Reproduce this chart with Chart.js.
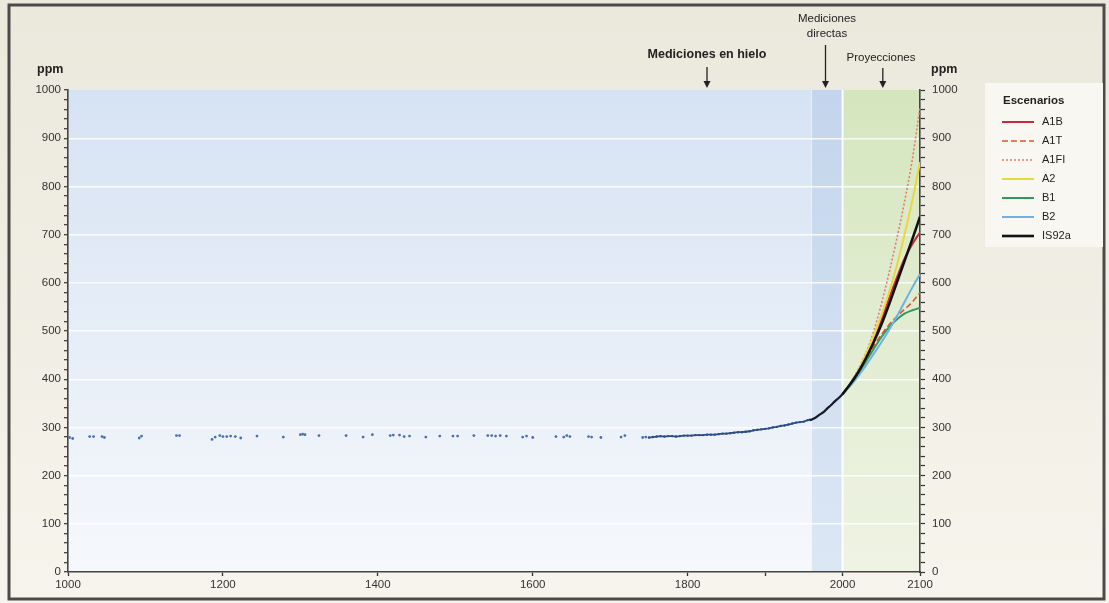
<!DOCTYPE html>
<html>
<head>
<meta charset="utf-8">
<script src="https://cdn.jsdelivr.net/npm/chart.js@4.4.1/dist/chart.umd.min.js"></script>
<style>
body { margin: 0; background: #f3f1e8; }
#wrap { width: 1109px; height: 603px; }
</style>
</head>
<body>
<div id="wrap"><canvas id="mychart" width="1109" height="603"></canvas></div>
<script>
// ice core samples, 1000-1750 (scattered)
var iceYears = [1002,1006,1028,1033,1044,1047,1092,1095,1140,1144,1186,1190,1196,1200,1205,1210,1216,1223,1244,1278,1300,1303,1306,1324,1359,1381,1393,1416,1420,1428,1434,1441,1462,1480,1497,1503,1524,1542,1547,1552,1558,1566,1587,1592,1600,1630,1640,1644,1648,1672,1676,1688,1714,1719,1742,1746];
var iceCO2 = [279,277,281,281,281,279,278,282,283,283,275,280,283,281,281,282,281,278,282,280,285,286,285,283,283,280,285,283,284,284,281,282,280,282,282,282,283,283,283,282,283,282,280,282,279,281,280,283,281,281,280,279,280,283,279,280];

// ice core, dense part 1750-1958
var recentYears = [1750,1755,1760,1765,1770,1775,1780,1785,1790,1795,1800,1805,1810,1815,1820,1825,1830,1835,1840,1845,1850,1855,1860,1865,1870,1875,1880,1885,1890,1895,1900,1905,1910,1915,1920,1925,1930,1935,1940,1945,1950,1955,1958];
var recentCO2 = [279,280,281,282,281,282,282,281,282,283,283,283,284,284,284,285,285,285,286,287,287,288,289,290,290,291,292,294,295,296,297,298,300,301,303,304,306,308,310,311,312,315,316];

// direct measurements
var directYears = [1958,1965,1970,1975,1980,1985,1990,1995,2000];
var directCO2 = [315,320,326,331,339,346,354,361,369];

// projections 2000-2100
var projYears = [2000,2010,2020,2030,2040,2050,2060,2070,2080,2090,2100];
var A1B   = [369,389,412,443,478,522,567,610,650,680,705];
var A1T   = [369,390,415,441,468,492,513,530,545,560,580];
var A1FI  = [369,391,420,454,498,555,620,691,768,855,965];
var A2    = [369,390,417,451,490,532,580,635,700,770,850];
var B1    = [369,389,411,436,462,487,508,524,536,543,548];
var B2    = [369,386,406,428,452,476,502,530,560,590,618];
var IS92a = [369,390,414,443,476,513,555,600,645,690,737];

var scenarioNames = ['A1B','A1T','A1FI','A2','B1','B2','IS92a'];
var scenarioData = [A1B, A1T, A1FI, A2, B1, B2, IS92a];
var scenarioColors = ['#c9283e','#e2562c','#e47c6c','#e9d83a','#2f9a5c','#70b0e2','#111111'];
var scenarioDash = [[],[6,3],[2,2],[],[],[],[]];
var scenarioWidth = [2,1.6,1.6,2,2,2,2.6];

var xTicks = [1000,1200,1400,1600,1800,1900,2000,2100];

function pairs(xs, ys){
	var out = [];
	for(var i = 0; i < xs.length; i++) out.push({x: xs[i], y: ys[i]});
	return out;
}

var FONT = 'Liberation Sans, Arial, sans-serif';
Chart.defaults.font.family = FONT;
Chart.defaults.font.size = 11.5;
Chart.defaults.color = '#333';

var datasets = [];
for(var k = 0; k < scenarioNames.length; k++){
	datasets.push({
		label: scenarioNames[k],
		data: pairs(projYears, scenarioData[k]),
		borderColor: scenarioColors[k],
		borderDash: scenarioDash[k],
		borderWidth: scenarioWidth[k],
		pointRadius: 0,
		showLine: true,
		cubicInterpolationMode: 'monotone',
		order: k == 6 ? 0 : 7 - k
	});
}
datasets.push({
	label: 'Mediciones directas',
	data: pairs(directYears, directCO2),
	borderColor: '#151a24', borderWidth: 2.2, pointRadius: 0, showLine: true,
	cubicInterpolationMode: 'monotone', order: 1
});
datasets.push({
	label: 'Hielo reciente',
	data: pairs(recentYears, recentCO2),
	borderColor: '#2c4d88', borderWidth: 1.8, pointRadius: 1.2,
	pointBackgroundColor: '#2c4d88', pointBorderWidth: 0, showLine: true, order: 9
});
datasets.push({
	label: 'Hielo',
	data: pairs(iceYears, iceCO2),
	pointRadius: 1.4, pointBorderWidth: 0,
	pointBackgroundColor: '#4a6fb0', showLine: false, order: 10
});

// backgrounds, bands, annotations, legend
var decor = {
	id: 'decor',
	beforeDraw: function(chart){
		var c = chart.ctx, a = chart.chartArea, x = chart.scales.x;
		var W = chart.width, H = chart.height;
		var g = c.createLinearGradient(0, 0, 0, H);
		g.addColorStop(0, '#ebe8dc');
		g.addColorStop(1, '#f6f4ec');
		c.fillStyle = g;
		c.fillRect(0, 0, W, H);

		var x1960 = x.getPixelForValue(1960), x2000 = x.getPixelForValue(2000);
		g = c.createLinearGradient(0, a.top, 0, a.bottom);
		g.addColorStop(0, '#d6e3f3'); g.addColorStop(1, '#f6f8fc');
		c.fillStyle = g;
		c.fillRect(a.left, a.top, x1960 - a.left, a.bottom - a.top);
		g = c.createLinearGradient(0, a.top, 0, a.bottom);
		g.addColorStop(0, '#c3d5ec'); g.addColorStop(1, '#dce7f4');
		c.fillStyle = g;
		c.fillRect(x1960, a.top, x2000 - x1960, a.bottom - a.top);
		g = c.createLinearGradient(0, a.top, 0, a.bottom);
		g.addColorStop(0, '#d4e6be'); g.addColorStop(1, '#eff3e4');
		c.fillStyle = g;
		c.fillRect(x2000, a.top, a.right - x2000, a.bottom - a.top);

		c.strokeStyle = 'rgba(255,255,255,0.9)';
		c.lineWidth = 2;
		c.beginPath(); c.moveTo(x2000, a.top); c.lineTo(x2000, a.bottom); c.stroke();
		c.strokeStyle = 'rgba(255,255,255,0.5)';
		c.lineWidth = 1;
		c.beginPath(); c.moveTo(x1960, a.top); c.lineTo(x1960, a.bottom); c.stroke();
	},
	afterDraw: function(chart){
		var c = chart.ctx, a = chart.chartArea, x = chart.scales.x;
		c.save();
		// frame
		c.strokeStyle = '#4a4a4a';
		c.lineWidth = 3;
		c.strokeRect(9, 5, 1095, 594);

		c.fillStyle = '#222';
		c.textBaseline = 'middle';
		c.font = 'bold 12.5px ' + FONT;
		c.textAlign = 'left';
		c.fillText('ppm', 37, 70);
		c.fillText('ppm', 931, 70);

		c.textAlign = 'center';
		c.fillText('Mediciones en hielo', x.getPixelForValue(1825), 55);
		c.font = '11.5px ' + FONT;
		c.fillText('Mediciones', 827, 19);
		c.fillText('directas', 827, 34);
		c.fillText('Proyecciones', 881, 58);

		function arrow(px, y0, y1){
			c.strokeStyle = '#222'; c.fillStyle = '#222'; c.lineWidth = 1.3;
			c.beginPath(); c.moveTo(px, y0); c.lineTo(px, y1 - 5); c.stroke();
			c.beginPath(); c.moveTo(px - 3.5, y1 - 7); c.lineTo(px + 3.5, y1 - 7); c.lineTo(px, y1); c.closePath(); c.fill();
		}
		arrow(x.getPixelForValue(1825), 67, 88);
		arrow(x.getPixelForValue(1978), 45, 88);
		arrow(x.getPixelForValue(2052), 68, 88);

		// legend
		c.fillStyle = '#f8f7f1';
		c.fillRect(985, 83, 118, 164);
		c.fillStyle = '#222';
		c.textAlign = 'left';
		c.font = 'bold 11.5px ' + FONT;
		c.fillText('Escenarios', 1003, 101);
		c.font = '11px ' + FONT;
		for(var k = 0; k < scenarioNames.length; k++){
			var yy = 122 + k * 19;
			c.strokeStyle = scenarioColors[k];
			c.lineWidth = scenarioWidth[k];
			c.setLineDash(scenarioDash[k]);
			c.beginPath(); c.moveTo(1002, yy); c.lineTo(1034, yy); c.stroke();
			c.setLineDash([]);
			c.fillStyle = '#222';
			c.fillText(scenarioNames[k], 1042, yy);
		}
		c.restore();
	}
};

var ctx = document.getElementById('mychart').getContext('2d');
var chart = new Chart(ctx, {
	type: 'scatter',
	data: { datasets: datasets },
	options: {
		responsive: false,
		animation: false,
		layout: { padding: { left: 0, right: 139, top: 90, bottom: 0 } },
		plugins: { legend: { display: false }, tooltip: { enabled: false } },
		scales: {
			x: {
				type: 'linear', min: 1000, max: 2100,
				afterBuildTicks: function(s){ s.ticks = xTicks.map(function(v){ return {value: v}; }); },
				afterFit: function(s){ s.height = 31; },
				ticks: {
					autoSkip: false, maxRotation: 0, padding: 2, color: '#333',
					callback: function(v){ return v == 1900 ? '' : String(v); }
				},
				grid: { drawOnChartArea: false, tickLength: 4, tickColor: '#333', tickWidth: 1.3 },
				border: { color: '#444', width: 1.6 }
			},
			y: {
				position: 'left', min: 0, max: 1000,
				afterFit: function(s){ s.width = 68; },
				ticks: {
					stepSize: 20, autoSkip: false, padding: 3, color: '#333',
					callback: function(v){ return v % 100 == 0 ? String(v) : ''; }
				},
				grid: {
					tickLength: 4, tickColor: '#333', tickWidth: 1.2, lineWidth: 1.4,
					color: function(cx){
						var v = cx.tick ? cx.tick.value : 1;
						return (v % 100 == 0 && v > 0 && v < 1000) ? 'rgba(255,255,255,0.85)' : 'rgba(0,0,0,0)';
					}
				},
				border: { color: '#444', width: 1.6 }
			},
			y2: {
				position: 'right', min: 0, max: 1000,
				afterFit: function(s){ s.width = 50; },
				ticks: {
					stepSize: 20, autoSkip: false, padding: 7, color: '#333',
					callback: function(v){ return v % 100 == 0 ? String(v) : ''; }
				},
				grid: { drawOnChartArea: false, tickLength: 5, tickColor: '#333', tickWidth: 1.2 },
				border: { color: '#444', width: 1.6 }
			}
		}
	},
	plugins: [decor]
});
</script>
</body>
</html>
